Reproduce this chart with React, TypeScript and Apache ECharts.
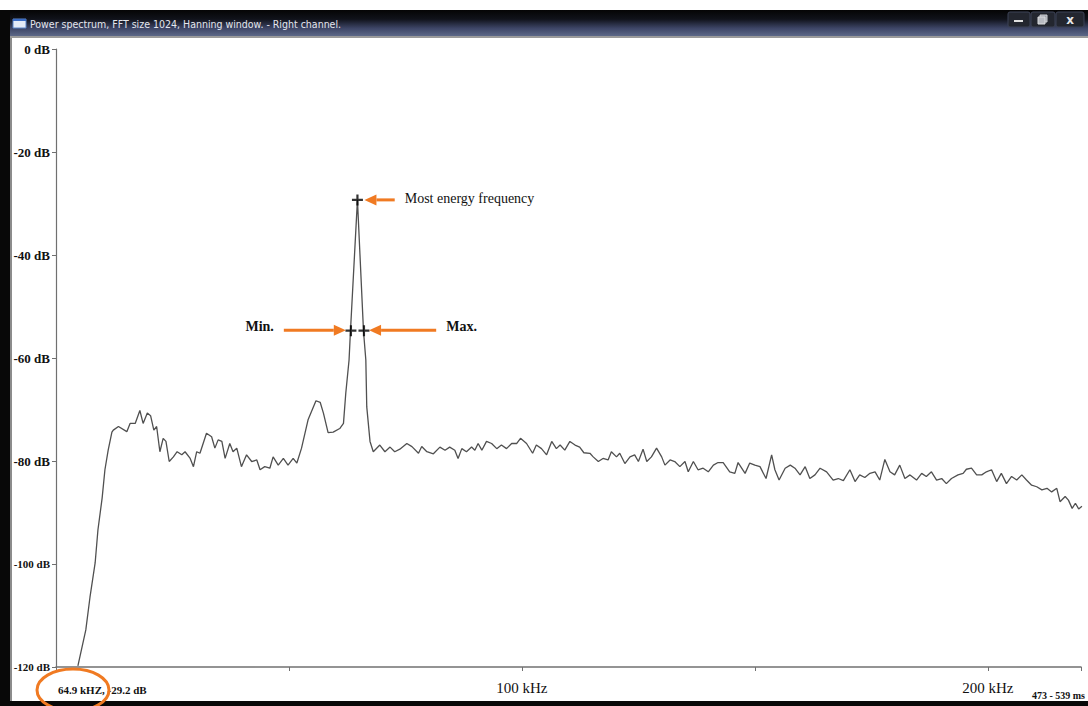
import React, { useEffect, useRef } from "react";
import * as echarts from "echarts";

// ---- data ----
const freqKHz = [
  4.7, 6.4, 7.3, 8.4, 9.0, 9.9, 10.5, 11.2, 12.0, 12.3, 13.4, 15.2, 15.9, 17.0, 18.0, 18.7, 19.6, 20.3, 21.0, 21.6,
  22.3, 23.0, 23.6, 24.3, 25.2, 26.0, 27.0, 27.7, 28.8, 29.5, 30.2, 30.9, 32.3, 33.4, 34.1, 34.8, 35.6, 36.3, 37.3, 38.0,
  38.8, 39.8, 40.9, 42.0, 43.1, 43.8, 44.8, 45.9, 46.6, 47.7, 48.8, 49.8, 50.9, 51.7, 52.7, 54.1, 55.8, 56.7, 57.4, 58.4,
  59.5, 60.9, 61.7, 62.2, 62.9, 63.2, 64.7, 66.0, 66.5, 66.7, 67.4, 68.1, 69.5, 70.6, 71.7, 72.7, 73.8, 75.3, 76.4, 77.8,
  78.5, 79.6, 81.0, 82.4, 83.5, 84.5, 85.6, 86.3, 87.1, 88.1, 89.2, 89.9, 90.6, 91.4, 92.4, 93.5, 94.6, 95.6, 96.7, 97.8,
  98.9, 99.7, 101.0, 102.3, 103.1, 104.2, 105.3, 106.4, 107.4, 108.2, 109.2, 110.3, 111.4, 112.4, 113.3, 114.6, 115.3, 116.4, 117.4, 118.5,
  119.2, 120.3, 121.0, 122.1, 123.2, 124.2, 125.0, 126.0, 126.8, 127.8, 128.9, 130.0, 130.7, 131.8, 132.8, 133.9, 135.0, 135.7, 136.8, 137.8,
  138.9, 140.0, 141.1, 142.1, 143.2, 144.6, 145.7, 146.4, 147.9, 148.9, 150.0, 151.1, 152.4, 153.6, 154.3, 155.2, 156.5, 157.6, 158.6, 159.7,
  160.8, 161.8, 162.9, 164.0, 165.4, 166.8, 167.9, 169.0, 170.4, 171.5, 172.5, 173.6, 174.7, 175.8, 176.8, 177.9, 179.0, 180.0, 181.1, 182.2,
  183.3, 184.7, 185.8, 186.8, 187.9, 189.0, 190.1, 191.1, 192.2, 193.6, 194.7, 195.4, 196.5, 197.6, 198.7, 199.7, 200.8, 201.9, 202.9, 204.0,
  205.1, 206.2, 207.3, 208.3, 209.4, 210.5, 211.6, 212.7, 213.7, 214.8, 215.5, 216.6, 217.3, 218.1, 218.8, 219.5, 220.2,
];
const levelDb = [
  -119.8, -112.8, -106.4, -99.8, -93.4, -87.2, -81.7, -77.9, -74.4, -74.0, -73.3, -74.3, -72.7, -72.7, -70.2, -72.7, -70.7, -71.2, -74.0, -73.3,
  -78.2, -75.6, -76.2, -80.1, -79.2, -78.2, -78.8, -78.2, -79.5, -81.1, -78.2, -78.5, -74.6, -75.3, -77.5, -75.9, -76.2, -79.5, -76.6, -78.2,
  -77.5, -81.1, -78.8, -80.1, -79.8, -81.7, -81.1, -81.4, -79.2, -80.8, -79.5, -80.8, -79.5, -80.4, -77.5, -72.0, -68.3, -68.6, -70.7, -74.5,
  -74.4, -73.7, -72.7, -66.8, -60.4, -54.8, -29.3, -54.8, -60.4, -69.5, -76.2, -78.2, -76.9, -78.2, -77.3, -78.2, -77.7, -76.6, -77.2, -78.5,
  -77.2, -78.2, -78.6, -77.3, -77.9, -77.3, -77.9, -79.5, -77.6, -78.2, -77.3, -77.9, -76.6, -77.9, -76.2, -76.6, -77.6, -76.9, -77.6, -76.6,
  -76.6, -75.6, -76.6, -78.5, -76.9, -77.6, -78.8, -76.2, -77.6, -76.9, -77.9, -76.2, -76.9, -77.3, -78.4, -78.5, -79.2, -80.1, -79.5, -79.8,
  -78.2, -79.2, -78.5, -80.5, -79.2, -78.8, -80.1, -77.7, -80.1, -79.2, -77.5, -79.2, -80.8, -79.8, -80.1, -81.1, -80.1, -82.1, -80.1, -81.7,
  -81.4, -82.1, -80.8, -80.3, -80.3, -82.1, -82.4, -80.3, -82.4, -80.4, -80.8, -81.1, -83.4, -78.8, -81.7, -83.7, -81.4, -80.8, -81.4, -82.7,
  -81.1, -83.4, -82.7, -81.4, -82.1, -83.7, -83.4, -83.8, -81.7, -84.0, -82.7, -83.2, -82.4, -82.1, -83.7, -79.7, -82.1, -82.7, -80.8, -83.4,
  -82.7, -83.7, -82.4, -83.0, -82.1, -83.7, -83.4, -84.4, -83.4, -82.7, -82.4, -81.6, -81.4, -82.7, -82.7, -82.1, -81.7, -84.0, -82.4, -84.4,
  -83.0, -83.7, -82.7, -83.7, -84.7, -85.0, -85.6, -85.3, -86.0, -85.3, -87.9, -86.9, -87.6, -89.2, -88.2, -89.3, -88.8,
];

const xLabelValues = [100, 200];
const crossPoints = [
  [64.7, -29.3],
  [63.3, -54.7],
  [66.1, -54.7],
];
// annotation arrows: tail and tip in data coordinates
const arrowTails = [
  [72.7, -29.3],
  [48.9, -54.6],
  [81.6, -54.6],
];
const arrowTips = [
  [66.2, -29.3],
  [62.2, -54.6],
  [67.2, -54.6],
];
const arrowTexts = ["Most energy frequency", "Min.", "Max."];

const TITLE = "Power spectrum, FFT size 1024, Hanning window. - Right channel.";
const CURSOR_READOUT = "64.9 kHZ, -29.2 dB";
const TIME_RANGE = "473 - 539 ms";

const SERIF = "'Liberation Serif', 'Times New Roman', serif";
const ORANGE = "#f07a22";

export default function App() {
  const ref = useRef<HTMLDivElement>(null);

  useEffect(() => {
    if (!ref.current) return;
    const chart = echarts.init(ref.current, null, { renderer: "svg" });

    const option: any = {
      animation: false,
      backgroundColor: "#ffffff",
      grid: { left: 56, right: 7, top: 49, bottom: 39 },
      xAxis: {
        type: "value",
        min: 0,
        max: 220,
        interval: 50,
        axisLine: { show: true, onZero: false, lineStyle: { color: "#707070", width: 1.5 } },
        axisTick: { show: true, length: 4, lineStyle: { color: "#707070" } },
        splitLine: { show: false },
        axisLabel: {
          formatter: (v: number) => (xLabelValues.includes(v) ? `${v} kHz` : ""),
          fontFamily: SERIF,
          fontSize: 15,
          color: "#111",
          margin: 13,
          showMaxLabel: true,
        },
      },
      yAxis: {
        type: "value",
        min: -120,
        max: 0,
        interval: 20,
        axisLine: { show: true, onZero: false, lineStyle: { color: "#707070", width: 1.2 } },
        axisTick: { show: true, length: 4, lineStyle: { color: "#707070" } },
        splitLine: { show: false },
        axisLabel: {
          margin: 6,
          formatter: (v: number) => (v <= -100 ? `{s|${v} dB}` : `{b|${v} dB}`),
          rich: {
            b: { fontFamily: SERIF, fontSize: 13, fontWeight: "bold", color: "#111" },
            s: { fontFamily: SERIF, fontSize: 11, fontWeight: "bold", color: "#111" },
          },
        },
      },
      series: [
        {
          type: "line",
          data: freqKHz.map((f, i) => [f, levelDb[i]]),
          showSymbol: false,
          lineStyle: { color: "#505050", width: 1.3 },
          z: 2,
        },
        {
          type: "scatter",
          data: crossPoints,
          symbol: "path://M4,0H6V4H10V6H6V10H4V6H0V4H4Z",
          symbolSize: 11,
          itemStyle: { color: "#000" },
          z: 5,
        },
      ],
    };
    chart.setOption(option);

    const g: any[] = [];
    // window chrome
    g.push({
      type: "rect",
      shape: { x: 0, y: 10, width: 1088, height: 26 },
      style: {
        fill: new echarts.graphic.LinearGradient(0, 0, 0, 1, [
          { offset: 0, color: "#050505" },
          { offset: 0.35, color: "#10121a" },
          { offset: 0.7, color: "#3d4566" },
          { offset: 1, color: "#5d6888" },
        ]),
      },
      z: 100,
    });
    g.push({ type: "rect", shape: { x: 0, y: 36, width: 1088, height: 2 }, style: { fill: "#9a9a9a" }, z: 100 });
    g.push({ type: "rect", shape: { x: 0, y: 10, width: 10, height: 696 }, style: { fill: "#080808" }, z: 100 });
    g.push({ type: "rect", shape: { x: 10, y: 38, width: 2, height: 664 }, style: { fill: "#8c8c8c" }, z: 100 });
    g.push({ type: "rect", shape: { x: 0, y: 701, width: 1088, height: 5 }, style: { fill: "#080808" }, z: 100 });
    // icon
    g.push({ type: "rect", shape: { x: 13, y: 19, width: 13, height: 9 }, style: { fill: "#e4eaf6", stroke: "#5b84c8", lineWidth: 1 }, z: 101 });
    g.push({ type: "rect", shape: { x: 13, y: 19, width: 13, height: 2 }, style: { fill: "#3b6cc4" }, z: 102 });
    g.push({
      type: "text",
      x: 30,
      y: 24,
      style: { text: TITLE, fill: "#e4e6ee", font: "10.5px 'DejaVu Sans Condensed', 'Liberation Sans', sans-serif", verticalAlign: "middle" },
      z: 101,
    });
    // window buttons
    const btns = [
      { x: 1008, w: 22 },
      { x: 1031, w: 24 },
      { x: 1056, w: 28 },
    ];
    btns.forEach((b) =>
      g.push({
        type: "rect",
        shape: { x: b.x, y: 12, width: b.w, height: 15, r: 2 },
        style: { fill: "#23262f", stroke: "#3d4356", lineWidth: 1 },
        z: 101,
      })
    );
    g.push({ type: "rect", shape: { x: 1014, y: 20, width: 9, height: 2 }, style: { fill: "#e0e0e0" }, z: 102 });
    g.push({ type: "rect", shape: { x: 1040, y: 15, width: 7, height: 7 }, style: { fill: "#9da1aa", stroke: "#cfd1d6", lineWidth: 1 }, z: 102 });
    g.push({ type: "rect", shape: { x: 1038, y: 17, width: 7, height: 7 }, style: { fill: "#b8bbc2", stroke: "#dcdde0", lineWidth: 1 }, z: 103 });
    g.push({
      type: "text",
      x: 1070,
      y: 20,
      style: { text: "x", fill: "#e8e8e8", font: "bold 12px 'DejaVu Sans', sans-serif", align: "center", verticalAlign: "middle" },
      z: 102,
    });

    // arrows + annotation texts
    arrowTips.forEach((tip, i) => {
      const t = chart.convertToPixel({ gridIndex: 0 }, tip) as number[];
      const s = chart.convertToPixel({ gridIndex: 0 }, arrowTails[i]) as number[];
      const d = s[0] > t[0] ? 1 : -1;
      const bx = t[0] + d * 12;
      g.push({
        type: "line",
        shape: { x1: s[0], y1: s[1], x2: bx, y2: t[1] },
        style: { stroke: ORANGE, lineWidth: 3 },
        z: 50,
      });
      g.push({
        type: "polygon",
        shape: { points: [[t[0], t[1]], [bx, t[1] - 5.5], [bx, t[1] + 5.5]] },
        style: { fill: ORANGE },
        z: 50,
      });
      const isMain = i === 0;
      g.push({
        type: "text",
        x: d > 0 ? s[0] + 10 : s[0] - 10,
        y: isMain ? t[1] - 1 : t[1] - 4,
        style: {
          text: arrowTexts[i],
          fill: "#111",
          font: isMain ? `14px ${SERIF}` : `bold 14px ${SERIF}`,
          align: i === 1 ? "right" : "left",
          verticalAlign: "middle",
        },
        z: 50,
      });
    });

    // readouts
    g.push({
      type: "text",
      x: 58,
      y: 690,
      style: { text: CURSOR_READOUT, fill: "#111", font: `bold 11px ${SERIF}`, verticalAlign: "middle" },
      z: 60,
    });
    g.push({
      type: "ellipse",
      shape: { cx: 73, cy: 690, rx: 36, ry: 21 },
      style: { fill: "none", stroke: ORANGE, lineWidth: 3 },
      z: 110,
    });
    g.push({
      type: "text",
      x: 1085,
      y: 695,
      style: { text: TIME_RANGE, fill: "#111", font: `bold 10px ${SERIF}`, align: "right", verticalAlign: "middle" },
      z: 60,
    });

    chart.setOption({ graphic: g });

    return () => chart.dispose();
  }, []);

  return (
    <div
      ref={ref}
      style={{ position: "fixed", left: 0, top: 0, width: 1088, height: 706, background: "#fff" }}
    />
  );
}
